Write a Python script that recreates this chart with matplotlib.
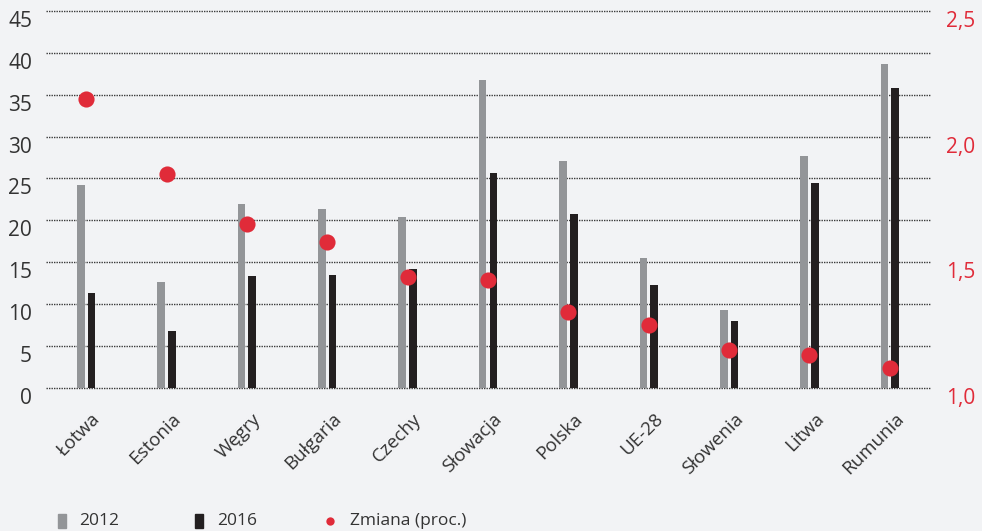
import matplotlib
matplotlib.use("Agg")
import matplotlib.pyplot as plt
import matplotlib.transforms as mtransforms
from matplotlib.patches import Rectangle
import numpy as np

plt.rcParams['font.family'] = ['Open Sans', 'DejaVu Sans']

countries = ["Łotwa", "Estonia", "Węgry", "Bułgaria", "Czechy", "Słowacja",
             "Polska", "UE-28", "Słowenia", "Litwa", "Rumunia"]
v2012 = [24.2, 12.6, 22.0, 21.4, 20.4, 36.7, 27.1, 15.5, 9.3, 27.7, 38.7]
v2016 = [11.3, 6.8, 13.3, 13.5, 14.2, 25.6, 20.8, 12.3, 8.0, 24.5, 35.8]
change = [2.15, 1.85, 1.65, 1.58, 1.44, 1.43, 1.30, 1.25, 1.15, 1.13, 1.08]

left_ticks = list(range(0, 50, 5))
right_ticks = [1.0, 1.5, 2.0, 2.5]
right_labels = ["1,0", "1,5", "2,0", "2,5"]
legend_labels = ["2012", "2016", "Zmiana (proc.)"]

BG = "#f2f3f5"
GRAY = "#939598"
BLACK = "#231f20"
RED = "#e02b39"
TEXT = "#333333"

fig = plt.figure(figsize=(9.82, 5.31), dpi=100, facecolor=BG)
ax = fig.add_axes([46 / 982, 1 - 387.7 / 531, (930 - 46) / 982, (387.7 - 11) / 531])
ax.set_facecolor(BG)

x = np.arange(len(countries))
w = 0.095
off = 0.067
ax.bar(x - off, v2012, width=w, color=GRAY, zorder=3)
ax.bar(x + off, v2016, width=w, color=BLACK, zorder=3)

ax.set_xlim(-0.5, len(countries) - 0.5)
ax.set_ylim(0, 45)
ax.set_yticks(left_ticks)
for t in left_ticks:
    ax.axhline(t, color="#3a3a3a", lw=1.0, ls=(0, (1, 0.8)), zorder=1, clip_on=False)

for s in ax.spines.values():
    s.set_visible(False)
ax.tick_params(axis="both", length=0)
ax.tick_params(axis="y", labelsize=15, labelcolor=TEXT, pad=10)

ax.set_xticks(x)
ax.set_xticklabels(countries, rotation=45, ha="right", rotation_mode="anchor",
                   fontsize=13.5, color=TEXT)
ax.tick_params(axis="x", pad=16)
shift_x = mtransforms.ScaledTranslation(5 / 100, 0, fig.dpi_scale_trans)
for lbl in ax.get_xticklabels():
    lbl.set_transform(lbl.get_transform() + shift_x)

ax2 = ax.twinx()
ax2.set_ylim(1.0, 2.5)
ax2.set_yticks(right_ticks)
ax2.set_yticklabels(right_labels)
for s in ax2.spines.values():
    s.set_visible(False)
ax2.tick_params(axis="y", length=0, labelsize=15, labelcolor=RED, pad=11.5)
ax2.scatter(x, change, s=135, color=RED, zorder=5, linewidths=0)

shift_y = mtransforms.ScaledTranslation(0, -8 / 100, fig.dpi_scale_trans)
for lbl in ax.get_yticklabels() + ax2.get_yticklabels():
    lbl.set_transform(lbl.get_transform() + shift_y)

# legend along the bottom edge
def px(xp, yp):
    return xp / 982, 1 - yp / 531

fig.add_artist(Rectangle(px(58, 528), 7.5 / 982, 14 / 531, color=GRAY, transform=fig.transFigure))
fig.add_artist(Rectangle(px(195, 528), 7.5 / 982, 14 / 531, color=BLACK, transform=fig.transFigure))
fig.add_artist(plt.Line2D([330 / 982], [1 - 521 / 531], marker="o", ms=6, color=RED,
                          mec="none", transform=fig.transFigure))
for xp, lab in zip([79, 217, 350], legend_labels):
    fig.text(*px(xp, 521), lab, fontsize=12.5, color=TEXT, va="center", ha="left")

fig.savefig("out.png", dpi=100, facecolor=BG)
